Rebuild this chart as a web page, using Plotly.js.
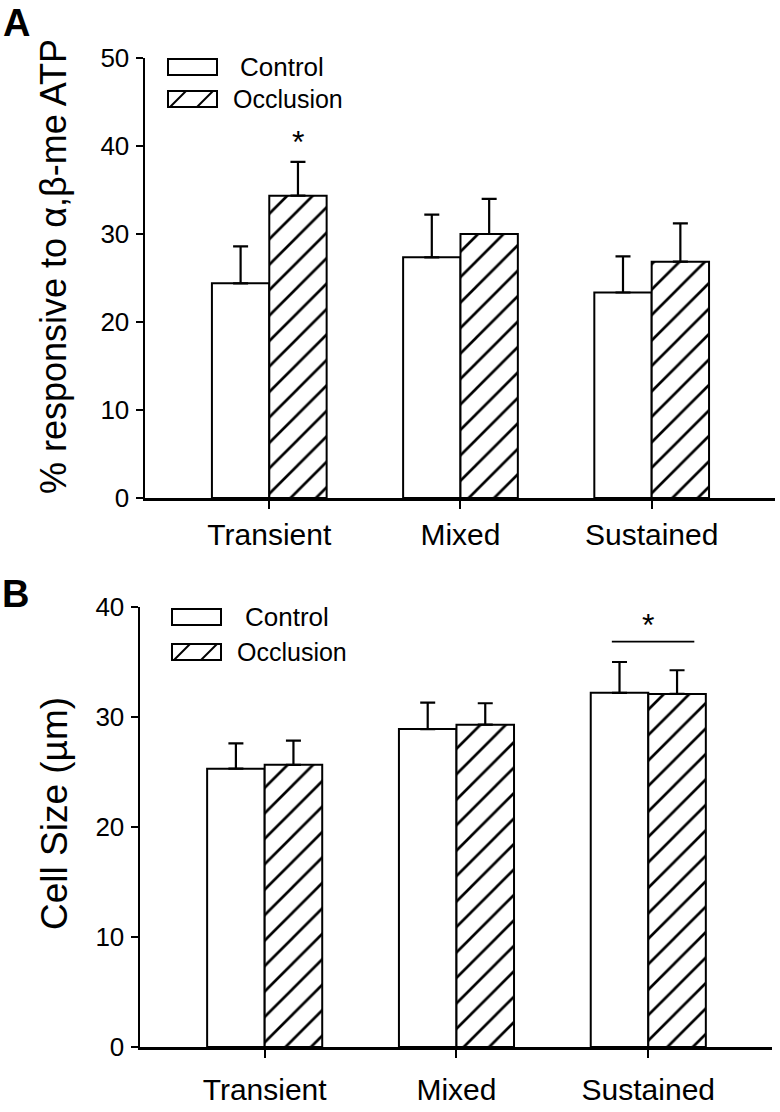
<!DOCTYPE html>
<html>
<head>
<meta charset="utf-8">
<script src="https://cdn.plot.ly/plotly-3.0.1.min.js"></script>
<style>html,body{margin:0;padding:0;background:#fff}</style>
</head>
<body>
<div id="chart" style="width:780px;height:1112px"></div>
<script>
const kategorien = ["Transient", "Mixed", "Sustained"];

// Panel A: % responsive to α,β-me ATP (Mittelwert + SEM nach oben)
const atpKontrolle = [24.4, 27.35, 23.35];
const atpKontrolleSem = [4.2, 4.85, 4.1];
const atpOkklusion = [34.35, 30.0, 26.85];
const atpOkklusionSem = [3.85, 4.0, 4.35];

// Panel B: Zellgroesse in µm
const groesseKontrolle = [25.3, 28.9, 32.2];
const groesseKontrolleSem = [2.3, 2.4, 2.8];
const groesseOkklusion = [25.65, 29.3, 32.1];
const groesseOkklusionSem = [2.2, 1.95, 2.15];

const W = 780, H = 1112;
const px = x => x / W;
const py = y => 1 - y / H;
const schrift = "Liberation Sans, Arial, sans-serif";

function balken(y, sem, name, schraffiert, xa, ya) {
  const marker = { color: "white", line: { color: "black", width: 2 } };
  if (schraffiert) {
    marker.pattern = { shape: "/", size: 18, solidity: 0.15, fgcolor: "black", bgcolor: "white" };
  }
  return {
    type: "bar",
    x: kategorien,
    y: y,
    name: name,
    xaxis: xa,
    yaxis: ya,
    marker: marker,
    error_y: {
      type: "data", array: sem, symmetric: false, arrayminus: sem.map(() => 0),
      color: "black", thickness: 2.2, width: 7.5
    },
    showlegend: false,
    hoverinfo: "skip"
  };
}

const spuren = [
  balken(atpKontrolle, atpKontrolleSem, "Control", false, "x", "y"),
  balken(atpOkklusion, atpOkklusionSem, "Occlusion", true, "x", "y"),
  balken(groesseKontrolle, groesseKontrolleSem, "Control", false, "x2", "y2"),
  balken(groesseOkklusion, groesseOkklusionSem, "Occlusion", true, "x2", "y2")
];

function xAchse(domain, anchor, standoff) {
  return {
    domain: domain, anchor: anchor, range: [-0.65, 2.645],
    showline: true, linewidth: 2.5, linecolor: "black",
    ticks: "outside", ticklen: 8, tickwidth: 2, tickcolor: "black",
    tickfont: { size: 30, family: schrift }, ticklabelstandoff: standoff,
    showgrid: false, zeroline: false, fixedrange: true
  };
}

function yAchse(domain, anchor, max) {
  return {
    domain: domain, anchor: anchor, range: [0, max], dtick: 10,
    showline: true, linewidth: 2.5, linecolor: "black",
    ticks: "outside", ticklen: 7, tickwidth: 2, tickcolor: "black",
    tickfont: { size: 26, family: schrift }, ticklabelstandoff: 1,
    showgrid: false, zeroline: false, fixedrange: true
  };
}

// Legende von Hand (Plotly-Symbole sind zu klein)
function legende(x0, yKontrolle, yOkklusion, textX1, textX2) {
  const s = [
    { type: "rect", xref: "paper", yref: "paper", x0: px(x0), x1: px(x0 + 49), y0: py(yKontrolle), y1: py(yKontrolle + 16), line: { color: "black", width: 2 }, fillcolor: "white" },
    { type: "rect", xref: "paper", yref: "paper", x0: px(x0), x1: px(x0 + 49), y0: py(yOkklusion), y1: py(yOkklusion + 16), line: { color: "black", width: 2 }, fillcolor: "white" },
    { type: "line", xref: "paper", yref: "paper", x0: px(x0 + 2), y0: py(yOkklusion + 16), x1: px(x0 + 18), y1: py(yOkklusion), line: { color: "black", width: 2 } },
    { type: "line", xref: "paper", yref: "paper", x0: px(x0 + 29), y0: py(yOkklusion + 16), x1: px(x0 + 45), y1: py(yOkklusion), line: { color: "black", width: 2 } }
  ];
  const a = [
    { xref: "paper", yref: "paper", x: px(textX1), y: py(yKontrolle + 8), xanchor: "left", yanchor: "middle", text: "Control", showarrow: false, font: { size: 26, family: schrift } },
    { xref: "paper", yref: "paper", x: px(textX2), y: py(yOkklusion + 8), xanchor: "left", yanchor: "middle", text: "Occlusion", showarrow: false, font: { size: 25, family: schrift } }
  ];
  return { s: s, a: a };
}

const legA = legende(168, 59, 91, 238, 231);
const legB = legende(172, 609, 644, 243, 235);

const formen = legA.s.concat(legB.s, [
  { type: "line", xref: "x2", yref: "y2", x0: 1.81, x1: 2.24, y0: 36.85, y1: 36.85, line: { color: "black", width: 1.6 } }
]);

function text(x, y, t, groesse, extra) {
  return Object.assign({
    xref: "paper", yref: "paper", x: px(x), y: py(y), xanchor: "center", yanchor: "middle",
    text: t, showarrow: false, font: { size: groesse, family: schrift }
  }, extra || {});
}

const notizen = legA.a.concat(legB.a, [
  text(16, 23, "<b>A</b>", 38),
  text(15, 594, "<b>B</b>", 38),
  text(54, 267, "% responsive to α,β-me ATP", 36, { textangle: -90 }),
  text(54, 814, "Cell Size (µm)", 37, { textangle: -90 }),
  { xref: "x", yref: "y", x: 0.15, y: 40.5, xanchor: "center", yanchor: "middle", text: "*", showarrow: false, font: { size: 32, family: schrift } },
  { xref: "x2", yref: "y2", x: 2.0, y: 38.4, xanchor: "center", yanchor: "middle", text: "*", showarrow: false, font: { size: 32, family: schrift } }
]);

const layout = {
  width: W, height: H,
  margin: { l: 0, r: 0, t: 0, b: 0 },
  paper_bgcolor: "white", plot_bgcolor: "white",
  font: { family: schrift, color: "black" },
  barmode: "group", bargap: 0.40, bargroupgap: 0,
  showlegend: false,
  xaxis: xAchse([px(145), px(775)], "y", 0),
  yaxis: yAchse([py(498), py(58)], "x", 50),
  xaxis2: xAchse([px(140), px(772)], "y2", 6),
  yaxis2: yAchse([py(1047), py(607)], "x2", 40),
  shapes: formen,
  annotations: notizen
};

Plotly.newPlot("chart", spuren, layout, { staticPlot: true, displayModeBar: false });
</script>
</body>
</html>
